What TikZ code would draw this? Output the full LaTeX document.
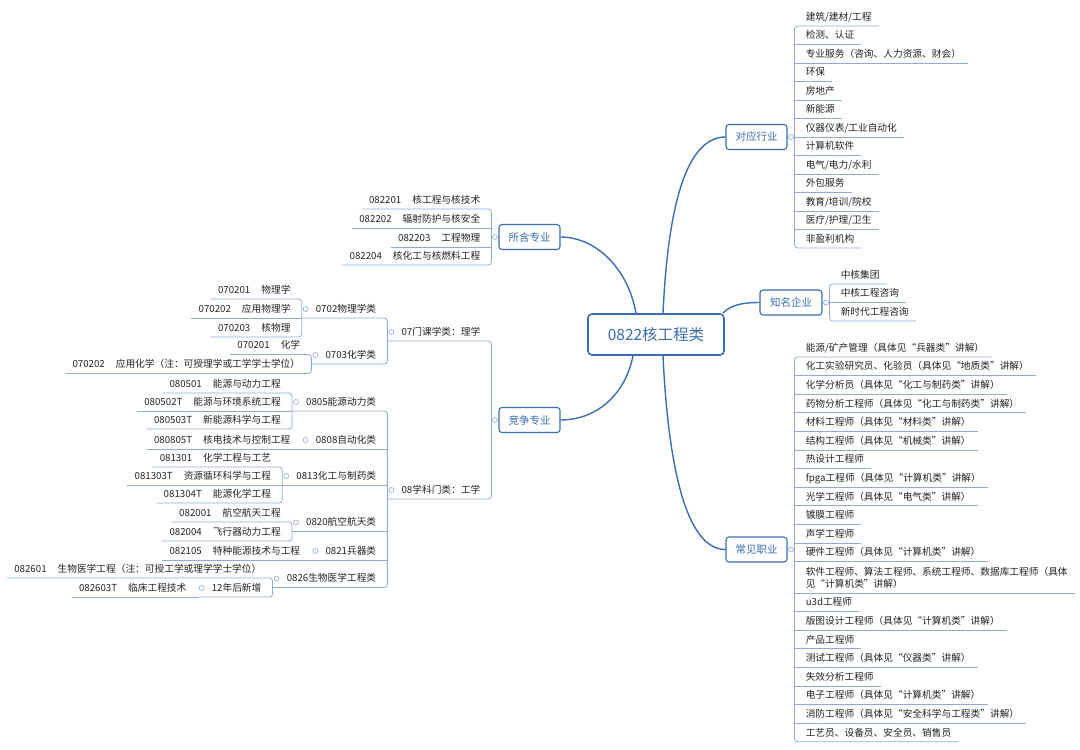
\documentclass[tikz,border=0pt]{standalone}
\usepackage{fontspec}
\setmainfont{Noto Sans CJK SC}
\definecolor{mapblue}{HTML}{3B6DB3}
\definecolor{twigblue}{HTML}{8FAAD4}
\definecolor{inkgray}{HTML}{222222}
\newcommand\codegap{\hspace{11pt}}
\tikzset{
  root/.style={draw=mapblue, fill=white, line width=1.6pt, rounded corners=4pt, minimum width=136pt, minimum height=41pt, text=mapblue, font=\fontsize{15.5}{18}\selectfont},
  topic/.style={draw=mapblue, fill=white, line width=1.1pt, rounded corners=3pt, minimum width=61pt, minimum height=25pt, text=mapblue, font=\fontsize{10.5}{12}\selectfont},
  leaf/.style={inner sep=0pt, text depth=5.5pt, text=inkgray, font=\fontsize{9.7}{12}\selectfont},
  twig/.style={draw=twigblue, line width=0.8pt, rounded corners=3pt},
  limb/.style={draw=mapblue, line width=1.4pt},
  knob/.style={circle, draw=twigblue, fill=white, line width=0.6pt, inner sep=0pt, minimum size=5pt},
}
\begin{document}
\begin{tikzpicture}[x=1pt,y=-1pt]
\useasboundingbox (0,0) rectangle (1080,750);

% 中心主题
\node[root] (root) at (656,334.5) {0822核工程类};

% 对应行业
\node[topic] (hy) at (756.5,137) {对应行业};
\coordinate (hy-t) at ([xshift=7pt]hy.east);
\foreach \t [count=\i] in {{建筑/建材/工程},{检测、认证},{专业服务（咨询、人力资源、财会）},{环保},{房地产},{新能源},{仪器仪表/工业自动化},{计算机软件},{电气/电力/水利},{外包服务},{教育/培训/院校},{医疗/护理/卫生},{非盈利机构}}{
  \node[leaf, anchor=south west, xshift=11pt] (hy\i) at (hy-t |- 0,7.5+18.5*\i) {\t};
  \ifnum\i>1 \ifnum\i<13 \draw[twig] (hy-t |- hy\i.south) -- ([xshift=7pt]hy\i.south east); \fi\fi
}
\draw[twig] (hy.east) -- (hy-t);
\draw[twig] ([xshift=7pt]hy1.south east) -| (hy-t) |- ([xshift=7pt]hy13.south east);

% 知名企业
\node[topic, minimum width=62pt] (qy) at (791,302.5) {知名企业};
\coordinate (qy-t) at ([xshift=7pt]qy.east);
\foreach \t [count=\i] in {中核集团,中核工程咨询,新时代工程咨询}{
  \node[leaf, anchor=south west, xshift=11pt] (qy\i) at (qy-t |- 0,265.5+18.5*\i) {\t};
}
\draw[twig] (qy.east) -- (qy-t);
\draw[twig] ([xshift=7pt]qy1.south east) -| (qy-t) |- ([xshift=7pt]qy3.south east);
\draw[twig] (qy-t) -- ([xshift=7pt]qy2.south east);

% 常见职业
\node[topic] (zy) at (756.5,549.5) {常见职业};
\coordinate (zy-t) at ([xshift=7pt]zy.east);
\foreach \t [count=\i] in {{能源/矿产管理（具体见“兵器类”讲解）},{化工实验研究员、化验员（具体见“地质类”讲解）},{化学分析员（具体见“化工与制药类”讲解）},{药物分析工程师（具体见“化工与制药类”讲解）},{材料工程师（具体见“材料类”讲解）},{结构工程师（具体见“机械类”讲解）},{热设计工程师},{fpga工程师（具体见“计算机类”讲解）},{光学工程师（具体见“电气类”讲解）},{镀膜工程师},{声学工程师},{硬件工程师（具体见“计算机类”讲解）},{\begin{tabular}[b]{@{}l@{}}软件工程师、算法工程师、系统工程师、数据库工程师（具体\\见“计算机类”讲解）\end{tabular}},{u3d工程师},{版图设计工程师（具体见“计算机类”讲解）},{产品工程师},{测试工程师（具体见“仪器类”讲解）},{失效分析工程师},{电子工程师（具体见“计算机类”讲解）},{消防工程师（具体见“安全科学与工程类”讲解）},{工艺员、设备员、安全员、销售员}}{
  \pgfmathsetmacro{\yy}{\i<13 ? 338.4+18.6*\i : 351.2+18.6*\i}
  \node[leaf, anchor=south west, xshift=11pt] (zy\i) at (zy-t |- 0,\yy) {\t};
  \ifnum\i>1 \ifnum\i<21 \draw[twig] (zy-t |- zy\i.south) -- ([xshift=7pt]zy\i.south east); \fi\fi
}
\draw[twig] (zy.east) -- (zy-t);
\draw[twig] ([xshift=7pt]zy1.south east) -| (zy-t) |- ([xshift=7pt]zy21.south east);

% 所含专业
\node[topic] (sh) at (529.5,237) {所含专业};
\coordinate (sh-t) at ([xshift=-7pt]sh.west);
\node[leaf, anchor=south east, xshift=-11pt] (sh1) at (sh-t |- 0,209) {082201\codegap 核工程与核技术};
\node[leaf, anchor=south east, xshift=-11pt] (sh2) at (sh-t |- 0,228) {082202\codegap 辐射防护与核安全};
\node[leaf, anchor=south east, xshift=-11pt] (sh3) at (sh-t |- 0,247) {082203\codegap 工程物理};
\node[leaf, anchor=south east, xshift=-11pt] (sh4) at (sh-t |- 0,265) {082204\codegap 核化工与核燃料工程};
\draw[twig] (sh.west) -- (sh-t);
\draw[twig] ([xshift=-7pt]sh1.south west) -| (sh-t) |- ([xshift=-7pt]sh4.south west);
\draw[twig] (sh-t |- sh2.south) -- ([xshift=-7pt]sh2.south west);
\draw[twig] (sh-t |- sh3.south) -- ([xshift=-7pt]sh3.south west);

% 竞争专业
\node[topic] (jz) at (529.5,420) {竞争专业};
\coordinate (jz-t) at ([xshift=-7pt]jz.west);
\node[leaf, anchor=south east, xshift=-11pt] (lk07) at (jz-t |- 0,341) {07门课学类：理学};
\node[leaf, anchor=south east, xshift=-11pt] (lk08) at (jz-t |- 0,499) {08学科门类：工学};
\coordinate (lk07-t) at ([xshift=-14pt]lk07.south west);
\coordinate (lk08-t) at ([xshift=-14pt]lk08.south west);
\draw[twig] (jz.west) -- (jz-t);
\draw[twig] (lk07-t) -| (jz-t) |- (lk08-t);

% 07 理学
\node[leaf, anchor=south east, xshift=-11pt] (lk0702) at (lk07-t |- 0,318) {0702物理学类};
\node[leaf, anchor=south east, xshift=-11pt] (lk0703) at (lk07-t |- 0,364) {0703化学类};
\coordinate (lk0702-t) at ([xshift=-14pt]lk0702.south west);
\coordinate (lk0703-t) at ([xshift=-14pt]lk0703.south west);
\draw[twig] (lk0702-t) -| (lk07-t) |- (lk0703-t);

\node[leaf, anchor=south east, xshift=-11pt] (wl1) at (lk0702-t |- 0,299) {070201\codegap 物理学};
\node[leaf, anchor=south east, xshift=-11pt] (wl2) at (lk0702-t |- 0,318) {070202\codegap 应用物理学};
\node[leaf, anchor=south east, xshift=-11pt] (wl3) at (lk0702-t |- 0,337) {070203\codegap 核物理};
\draw[twig] ([xshift=-7pt]wl1.south west) -| (lk0702-t) |- ([xshift=-7pt]wl3.south west);
\draw[twig] (lk0702-t) -- ([xshift=-7pt]wl2.south west);

\node[leaf, anchor=south east, xshift=-11pt] (hx1) at (lk0703-t |- 0,354.5) {070201\codegap 化学};
\node[leaf, anchor=south east, xshift=-11pt] (hx2) at (lk0703-t |- 0,373.5) {070202\codegap 应用化学（注：可授理学或工学学士学位）};
\draw[twig] ([xshift=-7pt]hx1.south west) -| (lk0703-t) |- ([xshift=-7pt]hx2.south west);

% 08 工学
\node[leaf, anchor=south east, xshift=-11pt] (lk0805) at (lk08-t |- 0,411) {0805能源动力类};
\node[leaf, anchor=south east, xshift=-11pt] (lk0808) at (lk08-t |- 0,449) {0808自动化类};
\node[leaf, anchor=south east, xshift=-11pt] (lk0813) at (lk08-t |- 0,485) {0813化工与制药类};
\node[leaf, anchor=south east, xshift=-11pt] (lk0820) at (lk08-t |- 0,531.5) {0820航空航天类};
\node[leaf, anchor=south east, xshift=-11pt] (lk0821) at (lk08-t |- 0,560) {0821兵器类};
\node[leaf, anchor=south east, xshift=-11pt] (lk0826) at (lk08-t |- 0,587.5) {0826生物医学工程类};
\foreach \k in {0805,0808,0813,0820,0821,0826}
  \coordinate (lk\k-t) at ([xshift=-14pt]lk\k.south west);
\draw[twig] (lk0805-t) -| (lk08-t) |- (lk0826-t);
\foreach \k in {0808,0813,0820,0821}
  \draw[twig] (lk08-t |- lk\k.south) -- (lk\k-t);

\node[leaf, anchor=south east, xshift=-11pt] (ny1) at (lk0805-t |- 0,393) {080501\codegap 能源与动力工程};
\node[leaf, anchor=south east, xshift=-11pt] (ny2) at (lk0805-t |- 0,411) {080502T\codegap 能源与环境系统工程};
\node[leaf, anchor=south east, xshift=-11pt] (ny3) at (lk0805-t |- 0,429) {080503T\codegap 新能源科学与工程};
\draw[twig] ([xshift=-7pt]ny1.south west) -| (lk0805-t) |- ([xshift=-7pt]ny3.south west);
\draw[twig] (lk0805-t) -- ([xshift=-7pt]ny2.south west);

\node[leaf, anchor=south east, xshift=-11pt] (zd1) at (lk0808-t |- 0,449) {080805T\codegap 核电技术与控制工程};
\draw[twig] (lk0808-t) -- ([xshift=-7pt]zd1.south west);

\node[leaf, anchor=south east, xshift=-11pt] (hg1) at (lk0813-t |- 0,467) {081301\codegap 化学工程与工艺};
\node[leaf, anchor=south east, xshift=-11pt] (hg2) at (lk0813-t |- 0,485) {081303T\codegap 资源循环科学与工程};
\node[leaf, anchor=south east, xshift=-11pt] (hg3) at (lk0813-t |- 0,503) {081304T\codegap 能源化学工程};
\draw[twig] ([xshift=-7pt]hg1.south west) -| (lk0813-t) |- ([xshift=-7pt]hg3.south west);
\draw[twig] (lk0813-t) -- ([xshift=-7pt]hg2.south west);

\node[leaf, anchor=south east, xshift=-11pt] (hk1) at (lk0820-t |- 0,522) {082001\codegap 航空航天工程};
\node[leaf, anchor=south east, xshift=-11pt] (hk2) at (lk0820-t |- 0,541) {082004\codegap 飞行器动力工程};
\draw[twig] ([xshift=-7pt]hk1.south west) -| (lk0820-t) |- ([xshift=-7pt]hk2.south west);

\node[leaf, anchor=south east, xshift=-11pt] (bq1) at (lk0821-t |- 0,560) {082105\codegap 特种能源技术与工程};
\draw[twig] (lk0821-t) -- ([xshift=-7pt]bq1.south west);

\node[leaf, anchor=south east, xshift=-11pt] (sy1) at (lk0826-t |- 0,578) {082601\codegap 生物医学工程（注：可授工学或理学学士学位）};
\node[leaf, anchor=south east, xshift=-11pt] (sy2) at (lk0826-t |- 0,597) {12年后新增};
\coordinate (sy2-t) at ([xshift=-14pt]sy2.south west);
\draw[twig] ([xshift=-7pt]sy1.south west) -| (lk0826-t) |- (sy2-t);
\node[leaf, anchor=south east, xshift=-11pt] (sy3) at (sy2-t |- 0,597) {082603T\codegap 临床工程技术};
\draw[twig] (sy2-t) -- ([xshift=-7pt]sy3.south west);

% 主干曲线
\draw[limb] ([xshift=7pt]root.north) .. controls +(4,-85) and +(-45,0) .. (hy.west);
\draw[limb] ([xshift=-2pt]root.north east) .. controls +(8,-8) and +(-18,0) .. (qy.west);
\draw[limb] ([xshift=7pt]root.south) .. controls +(4,85) and +(-45,0) .. (zy.west);
\draw[limb] ([xshift=-20pt]root.north) .. controls +(-8,-45) and +(35,0) .. (sh.east);
\draw[limb] ([xshift=-23pt]root.south) .. controls +(-8,40) and +(35,0) .. (jz.east);

% 结点圆圈
\foreach \k in {hy,qy,zy}
  \node[knob] (\k-k) at ([xshift=3.5pt]\k.east) {};
\foreach \k in {sh,jz}
  \node[knob] (\k-k) at ([xshift=-3.5pt]\k.west) {};
\foreach \k in {lk07,lk08,lk0702,lk0703,lk0805,lk0808,lk0813,lk0820,lk0821,lk0826,sy2}
  \node[knob] (\k-k) at ([xshift=-10pt,yshift=9pt]\k.south west) {};
\end{tikzpicture}
\end{document}
